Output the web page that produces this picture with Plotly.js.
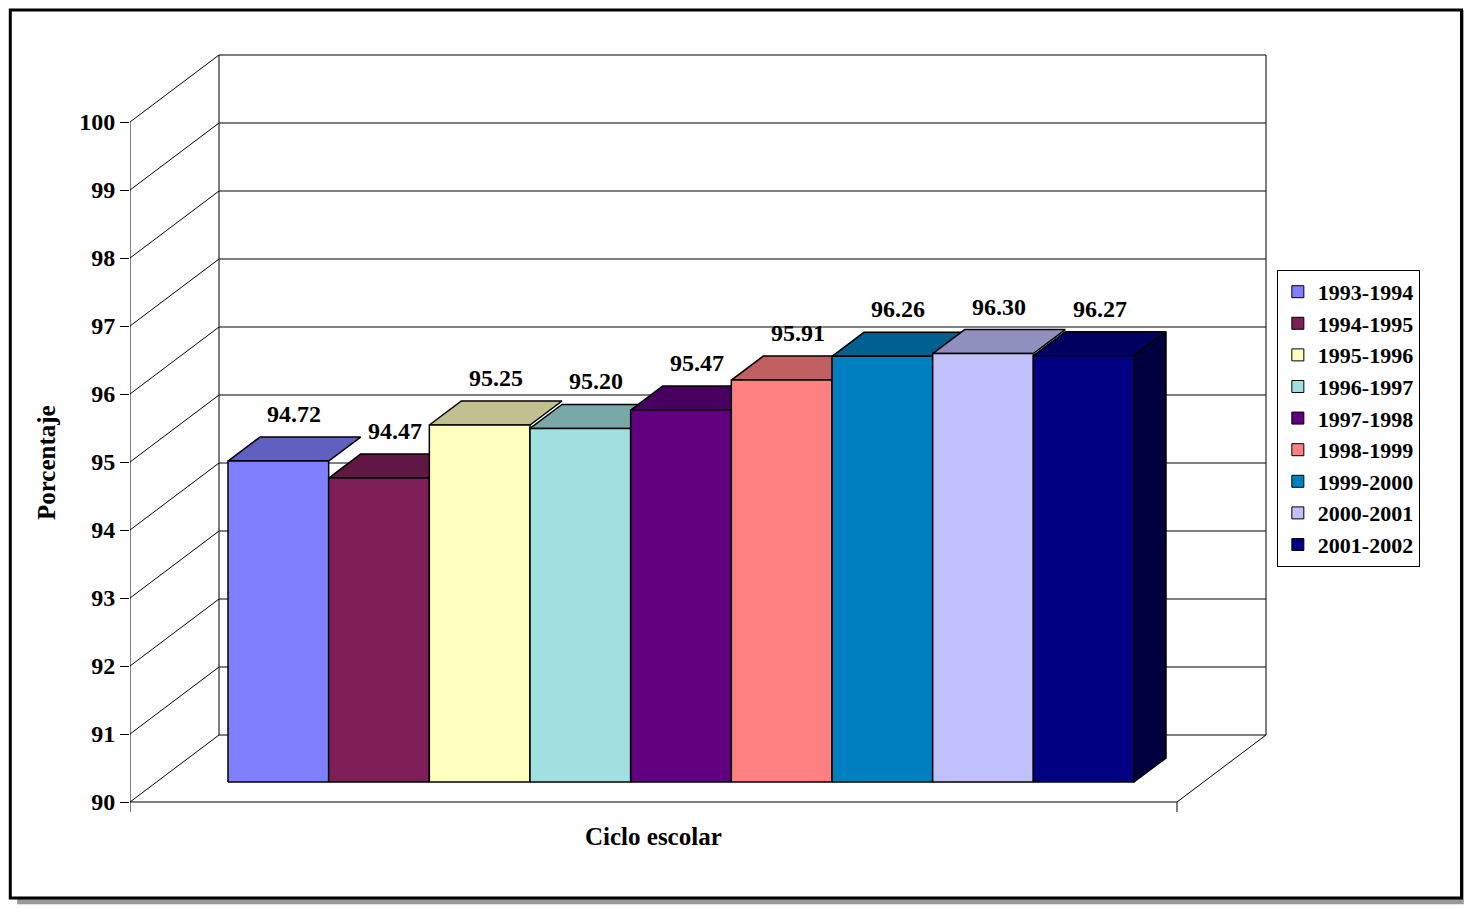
<!DOCTYPE html>
<html><head><meta charset="utf-8">
<script src="https://cdn.plot.ly/plotly-3.0.1.min.js"></script>
<style>body{margin:0;background:#fff}</style></head>
<body><div id="chart" style="width:1465px;height:908px"></div>
<script>
const categories = ["1993-1994","1994-1995","1995-1996","1996-1997","1997-1998","1998-1999","1999-2000","2000-2001","2001-2002"];
const values = [94.72,94.47,95.25,95.20,95.47,95.91,96.26,96.30,96.27];
const labels = ["94.72","94.47","95.25","95.20","95.47","95.91","96.26","96.30","96.27"];
const frontColors = ["#8080FF","#7F1F5A","#FFFFC0","#A0E0E0","#600080","#FF8080","#0080C0","#C0C0FF","#000080"];
const topColors = ["#6060C0","#601744","#C0C090","#78A8A8","#480060","#C06060","#006090","#9090C0","#000060"];
const sideColor = "#000040";
const yTicks = [90,91,92,93,94,95,96,97,98,99,100];

const X0 = 130, WALLDX = 89, WALLDY = 67/68, FLOOR_R = 1177;
const BAR_L = 228, BAR_W = (1134-228)/9, BAR_DZ = 20/68, BDX = 32, BDY = 24/68;
const F = "Times New Roman, Liberation Serif, serif";
const traces = [];
const line = (xs, ys) => traces.push({type:'scatter',mode:'lines',x:xs,y:ys,line:{color:'#000',width:1},hoverinfo:'skip',showlegend:false});
yTicks.forEach(v => { if (v>90) line([X0, X0+WALLDX, 1266], [v, v+WALLDY, v+WALLDY]); });
line([X0+WALLDX, X0+WALLDX], [90+WALLDY, 100+WALLDY]);
line([1266,1266],[90+WALLDY,100+WALLDY]);
line([X0, X0+WALLDX, 1266, FLOOR_R, X0], [90, 90+WALLDY, 90+WALLDY, 90, 90]);
line([X0, X0], [90, 100]);
line([X0, X0], [90, 90-10/68]);
line([FLOOR_R, FLOOR_R], [90, 90-10/68]);
const ann = [];
values.forEach((v,i) => {
  const l = BAR_L + i*BAR_W, r = l + BAR_W, b = 90 + BAR_DZ, t = v + BAR_DZ;
  traces.push({type:'scatter',mode:'lines',fill:'toself',fillcolor:topColors[i],
    x:[l, l+BDX, r+BDX, r, l], y:[t, t+BDY, t+BDY, t, t],
    line:{color:'#000',width:1.5},hoverinfo:'skip',showlegend:false});
  if (i === values.length-1) traces.push({type:'scatter',mode:'lines',fill:'toself',fillcolor:sideColor,
    x:[r, r+BDX, r+BDX, r, r], y:[b, b+BDY, t+BDY, t, b],
    line:{color:'#000',width:1.5},hoverinfo:'skip',showlegend:false});
  traces.push({type:'scatter',mode:'lines',fill:'toself',fillcolor:frontColors[i],
    x:[l, r, r, l, l], y:[b, b, t, t, b], line:{color:'#000',width:1.5},showlegend:false,
    name:categories[i]});
  ann.push({x:(l+r)/2+BDX/2, y:t+BDY, xref:'x', yref:'y', text:'<b>'+labels[i]+'</b>', showarrow:false,
    yshift:23, font:{family:F,size:24,color:'#000'}});
});
categories.forEach((c,i) => traces.push({type:'bar',x:[null],y:[null],name:'<b>'+c+'</b>',
  marker:{color:frontColors[i],line:{color:'#000',width:1}},showlegend:true,hoverinfo:'skip'}));
ann.push({x:-0.0746,y:0.465,xref:'paper',yref:'paper',xshift:-14,text:'<b>Porcentaje</b>',textangle:-90,showarrow:false,font:{family:F,size:25,color:'#000'}});
ann.push({x:0.459,y:-0.010,xref:'paper',yref:'paper',yshift:-14,text:'<b>Ciclo escolar</b>',showarrow:false,font:{family:F,size:25,color:'#000'}});

const layout = {
  width:1465, height:908, margin:{l:130,r:195,t:40,b:78},
  paper_bgcolor:'#fff', plot_bgcolor:'rgba(0,0,0,0)', barmode:'overlay',
  xaxis:{range:[130,1270],visible:false,fixedrange:true},
  yaxis:{range:[90-28/68, 100+82/68], tickvals:yTicks, ticktext:yTicks.map(v=>'<b>'+v+'</b>'),
    ticks:'outside', ticklen:9, tickcolor:'#000', showgrid:false, zeroline:false, showline:false,
    tickfont:{family:F,size:24,color:'#000'}},
  legend:{x:1.006,y:0.709,xanchor:'left',yanchor:'top',bordercolor:'#000',borderwidth:1,
    font:{family:F,size:22,color:'#000'},tracegroupgap:0,itemwidth:30,traceorder:'normal'},
  annotations: ann,
  shapes:[
    {type:'rect',xref:'paper',yref:'paper',x0:-0.099,x1:1.170,y0:-0.094,y1:1.038,line:{width:0},fillcolor:'#999',layer:'below'},
    {type:'rect',xref:'paper',yref:'paper',x0:-0.105,x1:1.168,y0:-0.086,y1:1.038,line:{color:'#000',width:3},fillcolor:'#fff',layer:'below'}
  ]
};
Plotly.newPlot('chart', traces, layout, {displayModeBar:false});
</script></body></html>
